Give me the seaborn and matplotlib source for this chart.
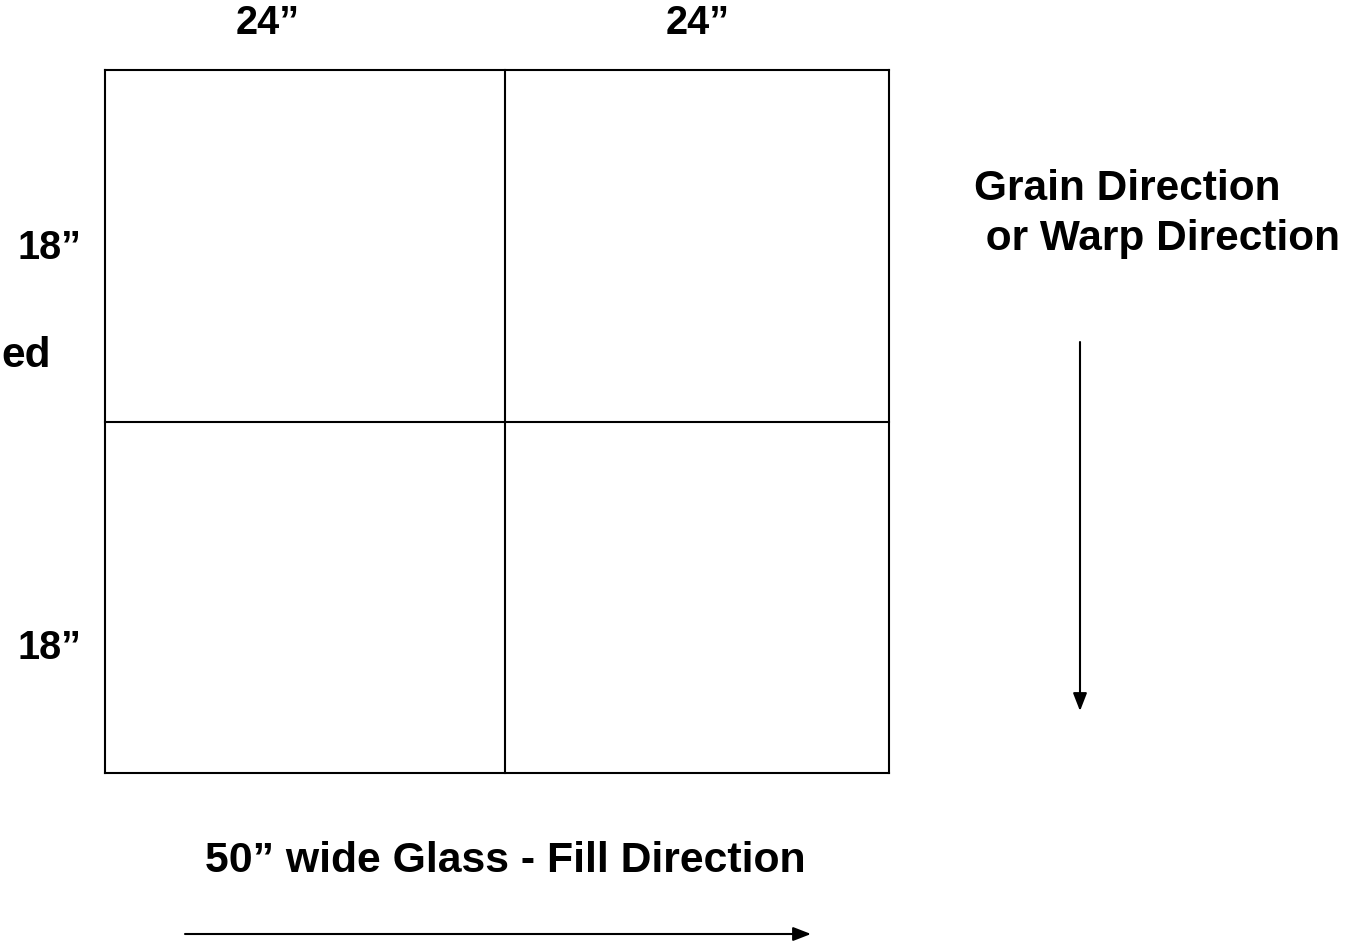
import matplotlib
matplotlib.use("Agg")
import matplotlib.pyplot as plt
import seaborn as sns

# ---- data (labels / values) ----
column_widths_in = [24, 24]          # inches
row_heights_in = [18, 18]            # inches
col_labels = ["24\u201d", "24\u201d"]
row_labels = ["18\u201d", "18\u201d"]
side_fragment = "ed"
fill_label = "50\u201d wide Glass - Fill Direction"
grain_label = "Grain Direction\n or Warp Direction"

sns.set_theme(style="white")
plt.rcParams["font.family"] = ["Liberation Sans", "DejaVu Sans"]

W, H = 1359, 942
fig = plt.figure(figsize=(W / 100, H / 100), dpi=100)
ax = fig.add_axes([0, 0, 1, 1])
ax.set_xlim(0, W)
ax.set_ylim(H, 0)
ax.axis("off")

# layout (pixel geometry of the drawn panel)
x_edges = [105, 505, 889]
y_edges = [70, 422, 773]
lw = 1.5
for x in x_edges:
    ax.plot([x, x], [y_edges[0], y_edges[-1]], color="black", lw=lw, solid_capstyle="projecting")
for y in y_edges:
    ax.plot([x_edges[0], x_edges[-1]], [y, y], color="black", lw=lw, solid_capstyle="projecting")

# column labels
col_x = [268, 698]
for cx, lab in zip(col_x, col_labels):
    ax.text(cx, 23, lab, ha="center", va="center", fontsize=28.5, fontweight="bold", color="black")

# row labels
row_y = [248, 648]
for ry, lab in zip(row_y, row_labels):
    ax.text(49, ry, lab, ha="center", va="center", fontsize=28.5, fontweight="bold", color="black")

ax.text(51, 356, side_fragment, ha="right", va="center", fontsize=30.5, fontweight="bold", color="black")

# grain direction
ax.text(974, 214, grain_label, ha="left", va="center", fontsize=30.5, fontweight="bold",
        color="black", linespacing=1.3)
ax.annotate("", xy=(1080, 711), xytext=(1080, 342),
            arrowprops=dict(arrowstyle="-|>,head_length=0.9,head_width=0.35", color="black", lw=1.5,
                            shrinkA=0, shrinkB=0))

# fill direction
ax.text(505, 861, fill_label, ha="center", va="center", fontsize=30.8, fontweight="bold", color="black")
ax.annotate("", xy=(811, 934), xytext=(185, 934),
            arrowprops=dict(arrowstyle="-|>,head_length=0.9,head_width=0.35", color="black", lw=1.5,
                            shrinkA=0, shrinkB=0))

fig.savefig("out.png", dpi=100, facecolor="white")
